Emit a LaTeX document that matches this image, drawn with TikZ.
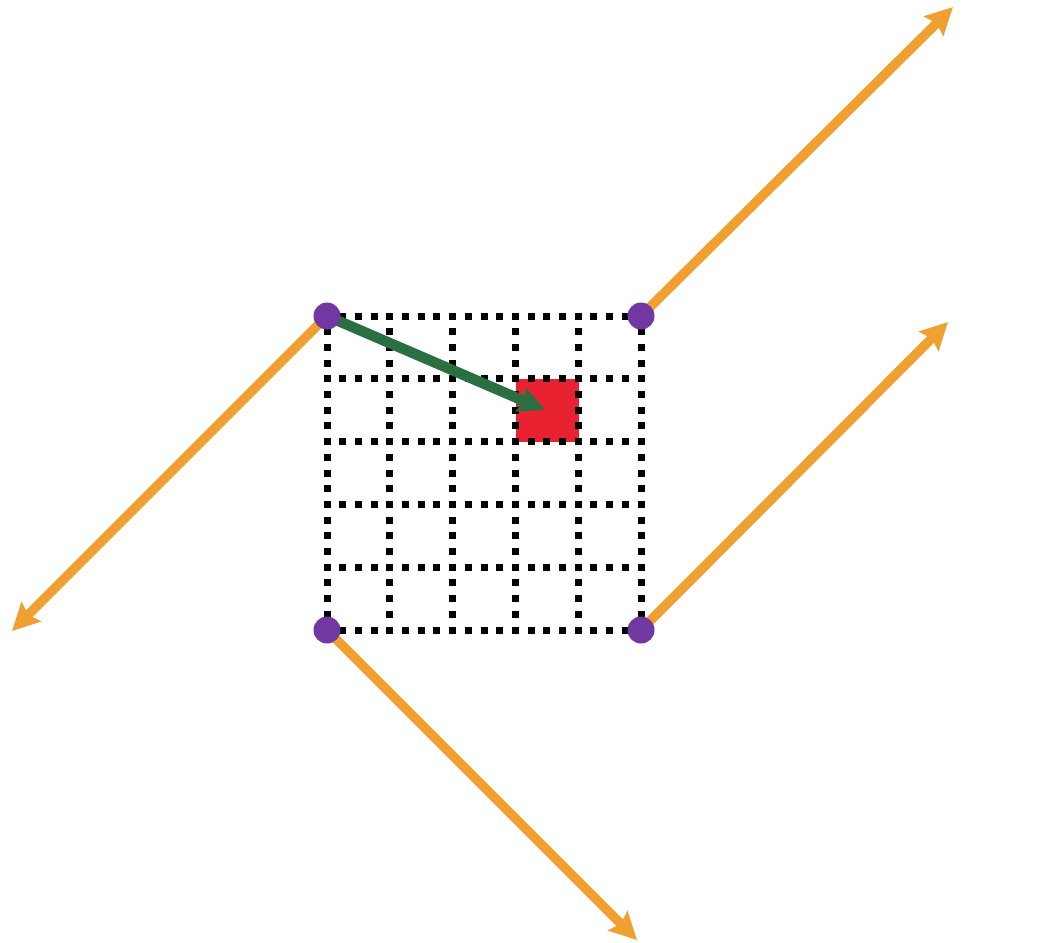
\documentclass[tikz,border=0pt]{standalone}
\usetikzlibrary{arrows.meta}
\definecolor{myorange}{HTML}{EFA030}
\definecolor{mypurple}{HTML}{7038A0}
\definecolor{mygreen}{HTML}{2A6E42}
\definecolor{myred}{HTML}{E82230}
\tikzset{
  corner/.style={circle,fill=mypurple,inner sep=0pt,minimum size=27pt},
  orangearrow/.style={draw=myorange,line width=9.5pt,-{Stealth[length=27pt,width=27pt,inset=4pt]}},
  greenarrow/.style={draw=mygreen,line width=10.5pt,-{Stealth[length=26pt,width=25pt,inset=3pt]}},
  gridline/.style={draw=black,line width=7pt,line cap=butt,dash pattern=on 7pt off 8.7pt},
  cell/.style={fill=myred,draw=none,minimum size=62.8pt,inner sep=0pt}
}
\begin{document}
\begin{tikzpicture}[x=1pt,y=-1pt]
\useasboundingbox (0,0) rectangle (1053,943);
\fill[white] (0,0) rectangle (1053,943);
% red cell
\node[cell] (target) at (547.1,410.3) {};
% grid
\foreach \i in {0,...,5}{
  \draw[gridline] ({327+62.8*\i},312.5) -- ({327+62.8*\i},633.5);
  \draw[gridline] (323.5,{316+62.8*\i}) -- (644.5,{316+62.8*\i});
}
% corner coordinates
\coordinate (ctl) at (327,316);
\coordinate (ctr) at (641,316);
\coordinate (cbl) at (327,630);
\coordinate (cbr) at (641,630);
\coordinate (etr) at (953,7);
\coordinate (ebr) at (948,322);
\coordinate (etl) at (12,631);
\coordinate (ebl) at (637,940);
\coordinate (gend) at (545,410);
% orange arrows
\draw[orangearrow] (ctr) -- (etr);
\draw[orangearrow] (cbr) -- (ebr);
\draw[orangearrow] (ctl) -- (etl);
\draw[orangearrow] (cbl) -- (ebl);
% green arrow
\draw[greenarrow] (ctl) -- (gend);
% corner dots
\node[corner] (tl) at (ctl) {};
\node[corner] (tr) at (ctr) {};
\node[corner] (bl) at (cbl) {};
\node[corner] (br) at (cbr) {};
\end{tikzpicture}
\end{document}
